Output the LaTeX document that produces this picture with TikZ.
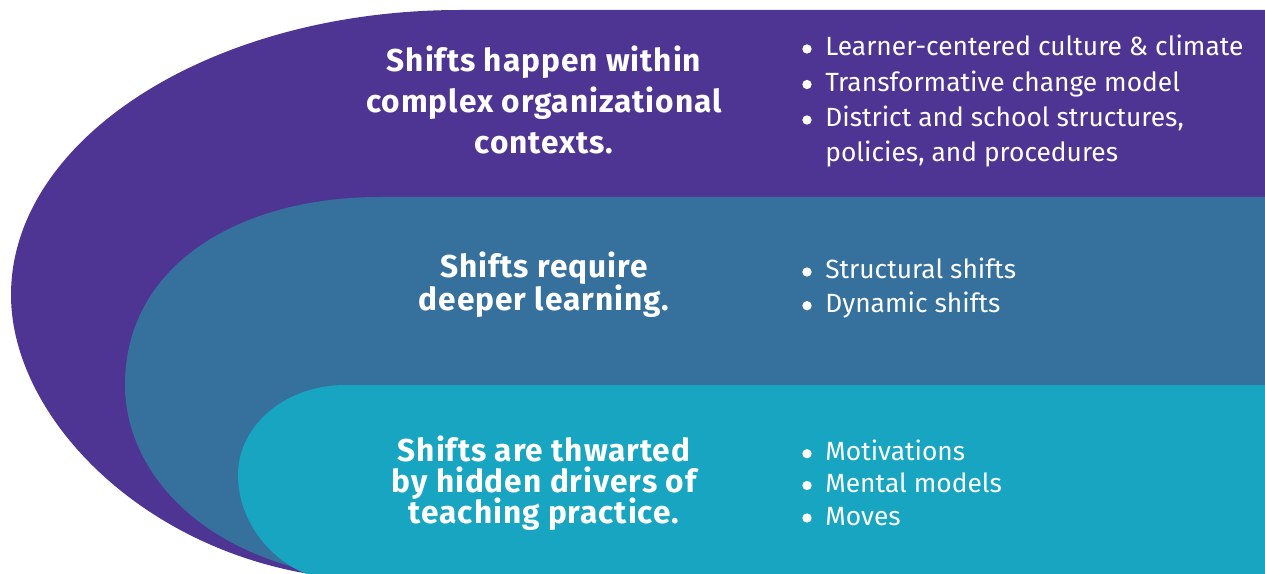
\documentclass[tikz,border=0pt]{standalone}
\usepackage{fontspec}
\setmainfont{Fira Sans}
\definecolor{purp}{RGB}{79,53,147}
\definecolor{midblue}{RGB}{54,113,158}
\definecolor{cyanb}{RGB}{23,165,194}
\tikzset{
  title/.style={anchor=base, inner sep=0pt, text=white, font=\fontsize{18}{21}\selectfont\bfseries\addfontfeatures{LetterSpace=3}},
  item/.style={anchor=base west, inner sep=0pt, text=white, font=\fontsize{15}{18}\selectfont},
  dot/.style={circle, fill=white, inner sep=0pt, minimum size=5.3pt}
}
\begin{document}
\begin{tikzpicture}[x=0.02cm,y=-0.02cm]
\useasboundingbox (0,0) rectangle (1265,574);
\clip (0,0) rectangle (1265,574);
% layers
\fill[purp] (1270,10) -- (460,10) .. controls (212,10) and (11,138) .. (11,295)
   .. controls (11,420) and (150,560) .. (340,578) -- (1270,578) -- cycle;
\fill[midblue] (1270,197) -- (380,197) .. controls (239,197) and (125,265) .. (125,385)
   .. controls (125,470) and (200,560) .. (350,578) -- (1270,578) -- cycle;
\fill[cyanb] (1270,385) -- (345,385) .. controls (286,385) and (238,425) .. (238,475)
   .. controls (238,530) and (285,578) .. (335,580) -- (1270,580) -- cycle;
% titles
\node[title] (t11) at (544,71.7) {Shifts happen within};
\node[title] (t12) at (544,112.7) {complex organizational};
\node[title] (t13) at (544,153.5) {contexts.};
\node[title] (t21) at (544,278) {Shifts require};
\node[title] (t22) at (544,311) {deeper learning.};
\node[title] (t31) at (544,461) {Shifts are thwarted};
\node[title] (t32) at (544,492) {by hidden drivers of};
\node[title] (t33) at (544,523) {teaching practice.};
% bullets block 1
\node[item] (a1) at (825,56) {Learner-centered culture \& climate};
\node[item] (a2) at (825,91.5) {Transformative change model};
\node[item] (a3) at (825,127) {District and school structures,};
\node[item] (a4) at (825,162) {policies, and procedures};
\node[dot] (d1) at (807,49) {};
\node[dot] (d2) at (807,84.5) {};
\node[dot] (d3) at (807,120) {};
% block 2
\node[item] (b1) at (825,279) {Structural shifts};
\node[item] (b2) at (825,312.7) {Dynamic shifts};
\node[dot] (e1) at (807,272) {};
\node[dot] (e2) at (807,305.7) {};
% block 3
\node[item] (c1) at (825,460.7) {Motivations};
\node[item] (c2) at (825,492.5) {Mental models};
\node[item] (c3) at (825,525) {Moves};
\node[dot] (f1) at (807,453.7) {};
\node[dot] (f2) at (807,485.5) {};
\node[dot] (f3) at (807,518) {};
\end{tikzpicture}
\end{document}
